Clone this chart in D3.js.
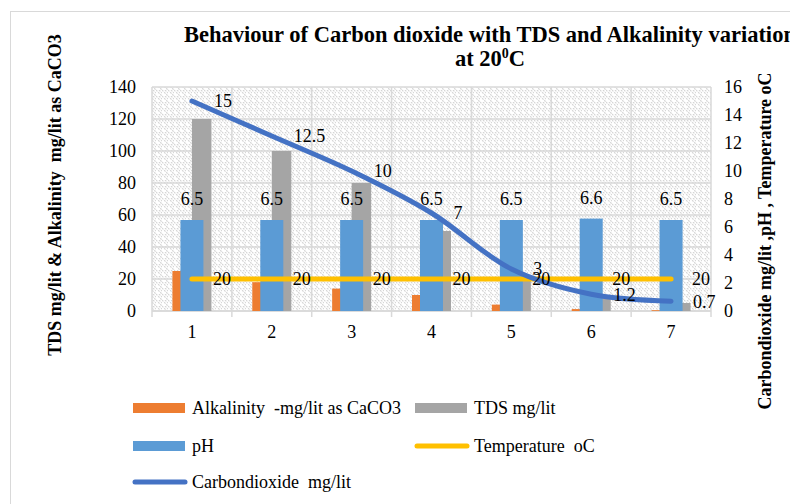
<!DOCTYPE html>
<html><head><meta charset="utf-8">
<script src="https://cdn.jsdelivr.net/npm/d3@7"></script>
<style>
body{margin:0;background:#fff}
svg{display:block}
text{font-family:"Liberation Serif","Times New Roman",serif;fill:#000}
</style>
</head><body><svg id="c" width="790" height="504"></svg>
<script>
const categories = ["1","2","3","4","5","6","7"];
const alkalinity = [25, 18, 14, 10, 4, 1.2, 0.5];
const tds = [120, 100, 80, 50, 20, 8, 5];
const ph = [6.5, 6.5, 6.5, 6.5, 6.5, 6.6, 6.5];
const temperature = [20, 20, 20, 20, 20, 20, 20];
const co2 = [15, 12.5, 10, 7, 3, 1.2, 0.7];
const leftTicks = [0, 20, 40, 60, 80, 100, 120, 140];
const rightTicks = [0, 2, 4, 6, 8, 10, 12, 14, 16];
const legendItems = [
  {name: "Alkalinity  -mg/lit as CaCO3", type: "bar", color: "#ED7D31"},
  {name: "TDS mg/lit", type: "bar", color: "#A5A5A5"},
  {name: "pH", type: "bar", color: "#5B9BD5"},
  {name: "Temperature  oC", type: "line", color: "#FFC000"},
  {name: "Carbondioxide  mg/lit", type: "line", color: "#4472C4"}
];

const svg = d3.select("#c");
const L = 152, R = 711, T = 87, B = 311;

// chart border
svg.append("rect").attr("x", 10.5).attr("y", 11.5).attr("width", 800).attr("height", 520)
  .attr("fill", "#fff").attr("stroke", "#d9d9d9").attr("stroke-width", 1);

// pattern
const defs = svg.append("defs");
const pat = defs.append("pattern").attr("id", "hatch").attr("patternUnits", "userSpaceOnUse")
  .attr("width", 6).attr("height", 6);
pat.append("rect").attr("width", 6).attr("height", 6).attr("fill", "#fff");
pat.append("path").attr("d", "M0,0 L6,6 M-3,3 L0,6 M3,0 L6,3")
  .attr("stroke", "#d4d4d4").attr("stroke-width", 1.1).attr("stroke-dasharray", "2,1");

const x = d3.scaleBand().domain(categories).range([L, R]);
const yL = d3.scaleLinear().domain([0, 140]).range([B, T]);
const yR = d3.scaleLinear().domain([0, 16]).range([B, T]);

svg.append("rect").attr("x", L).attr("y", T).attr("width", R - L).attr("height", B - T)
  .attr("fill", "url(#hatch)");

// gridlines
svg.append("g").selectAll("line").data(leftTicks).join("line")
  .attr("x1", L).attr("x2", R).attr("y1", d => yL(d)).attr("y2", d => yL(d))
  .attr("stroke", "#d9d9d9").attr("stroke-width", 1.5);
const bounds = categories.map(c => x(c)).concat([R]);
svg.append("g").selectAll("line").data(bounds).join("line")
  .attr("x1", d => d).attr("x2", d => d).attr("y1", T).attr("y2", B + 6)
  .attr("stroke", "#d9d9d9").attr("stroke-width", 1.5);

// axes labels
const gl = svg.append("g").attr("transform", `translate(${L},0)`)
  .call(d3.axisLeft(yL).tickValues(leftTicks).tickSize(0).tickPadding(16));
gl.select(".domain").remove();
gl.selectAll("text").style("font-size", "18px").style("font-family", '"Liberation Serif",serif');

const gr = svg.append("g").attr("transform", `translate(${R},0)`)
  .call(d3.axisRight(yR).tickValues(rightTicks).tickSize(0).tickPadding(13));
gr.select(".domain").remove();
gr.selectAll("text").style("font-size", "18px").style("font-family", '"Liberation Serif",serif');

const gx = svg.append("g").attr("transform", `translate(0,${B})`)
  .call(d3.axisBottom(x).tickSize(0).tickPadding(14));
gx.select(".domain").remove();
gx.selectAll("text").style("font-size", "18px").style("font-family", '"Liberation Serif",serif');

svg.append("line").attr("x1", L).attr("x2", R).attr("y1", B).attr("y2", B)
  .attr("stroke", "#d9d9d9").attr("stroke-width", 1.5);

// bars
const bw = 19.5, pw = 23;
const cx = c => x(c) + x.bandwidth() / 2;
svg.append("g").selectAll("rect").data(alkalinity).join("rect")
  .attr("x", (d, i) => cx(categories[i]) - bw).attr("width", bw)
  .attr("y", d => yL(d)).attr("height", d => B - yL(d)).attr("fill", "#ED7D31");
svg.append("g").selectAll("rect").data(tds).join("rect")
  .attr("x", (d, i) => cx(categories[i])).attr("width", bw)
  .attr("y", d => yL(d)).attr("height", d => B - yL(d)).attr("fill", "#A5A5A5");
svg.append("g").selectAll("rect").data(ph).join("rect")
  .attr("x", (d, i) => cx(categories[i]) - pw / 2).attr("width", pw)
  .attr("y", d => yR(d)).attr("height", d => B - yR(d)).attr("fill", "#5B9BD5");

// lines
const tempLine = d3.line().x((d, i) => cx(categories[i])).y(d => yL(d));
svg.append("path").datum(temperature).attr("d", tempLine)
  .attr("fill", "none").attr("stroke", "#FFC000").attr("stroke-width", 5).attr("stroke-linecap", "round");
const co2Line = d3.line().x((d, i) => cx(categories[i])).y(d => yR(d)).curve(d3.curveCatmullRom.alpha(0.5));
svg.append("path").datum(co2).attr("d", co2Line)
  .attr("fill", "none").attr("stroke", "#4472C4").attr("stroke-width", 5).attr("stroke-linecap", "round");

// data labels
const lab = svg.append("g").style("font-size", "18px");
lab.selectAll(".ph").data(ph).join("text").attr("class", "ph")
  .attr("x", (d, i) => cx(categories[i])).attr("y", d => yR(d) - 15)
  .attr("text-anchor", "middle").text(d => d);
lab.selectAll(".tp").data(temperature).join("text").attr("class", "tp")
  .attr("x", (d, i) => cx(categories[i]) + 21).attr("y", d => yL(d)).attr("dy", "0.35em")
  .text(d => d);
lab.selectAll(".co").data(co2).join("text").attr("class", "co")
  .attr("x", (d, i) => cx(categories[i]) + 22).attr("y", d => yR(d)).attr("dy", "0.35em")
  .text(d => d);

// title
const title = svg.append("text").attr("x", 490).attr("text-anchor", "middle")
  .style("font-size", "22.5px").style("font-weight", "bold");
title.append("tspan").attr("x", 490).attr("y", 42).text("Behaviour of Carbon dioxide with TDS and Alkalinity variation");
const t2 = title.append("tspan").attr("x", 490).attr("y", 66);
t2.text("at 20");
title.append("tspan").attr("dy", -8).style("font-size", "14px").text("0");
title.append("tspan").attr("dy", 8).text("C");

// axis titles
svg.append("text").attr("transform", "translate(61,195) rotate(-90)").attr("text-anchor", "middle")
  .style("font-size", "18px").style("font-weight", "bold").attr("xml:space", "preserve")
  .text("TDS mg/lit & Alkalinity  mg/lit as CaCO3");
svg.append("text").attr("transform", "translate(771,241) rotate(-90)").attr("text-anchor", "middle")
  .style("font-size", "18px").style("font-weight", "bold")
  .text("Carbondioxide mg/lit ,pH , Temperature oC");

// legend
const pos = [[133, 408], [415, 408], [133, 446], [415, 446], [133, 482]];
const lg = svg.append("g");
legendItems.forEach((it, i) => {
  const [lx, ly] = pos[i];
  if (it.type === "bar") {
    lg.append("rect").attr("x", lx).attr("y", ly - 5).attr("width", 52).attr("height", 10).attr("fill", it.color);
  } else {
    lg.append("line").attr("x1", lx + 2).attr("x2", lx + 52).attr("y1", ly).attr("y2", ly)
      .attr("stroke", it.color).attr("stroke-width", 5).attr("stroke-linecap", "round");
  }
  lg.append("text").attr("x", lx + 59).attr("y", ly).attr("dy", "0.35em").style("font-size", "18px")
    .attr("xml:space", "preserve").text(it.name);
});
</script>
</body></html>
